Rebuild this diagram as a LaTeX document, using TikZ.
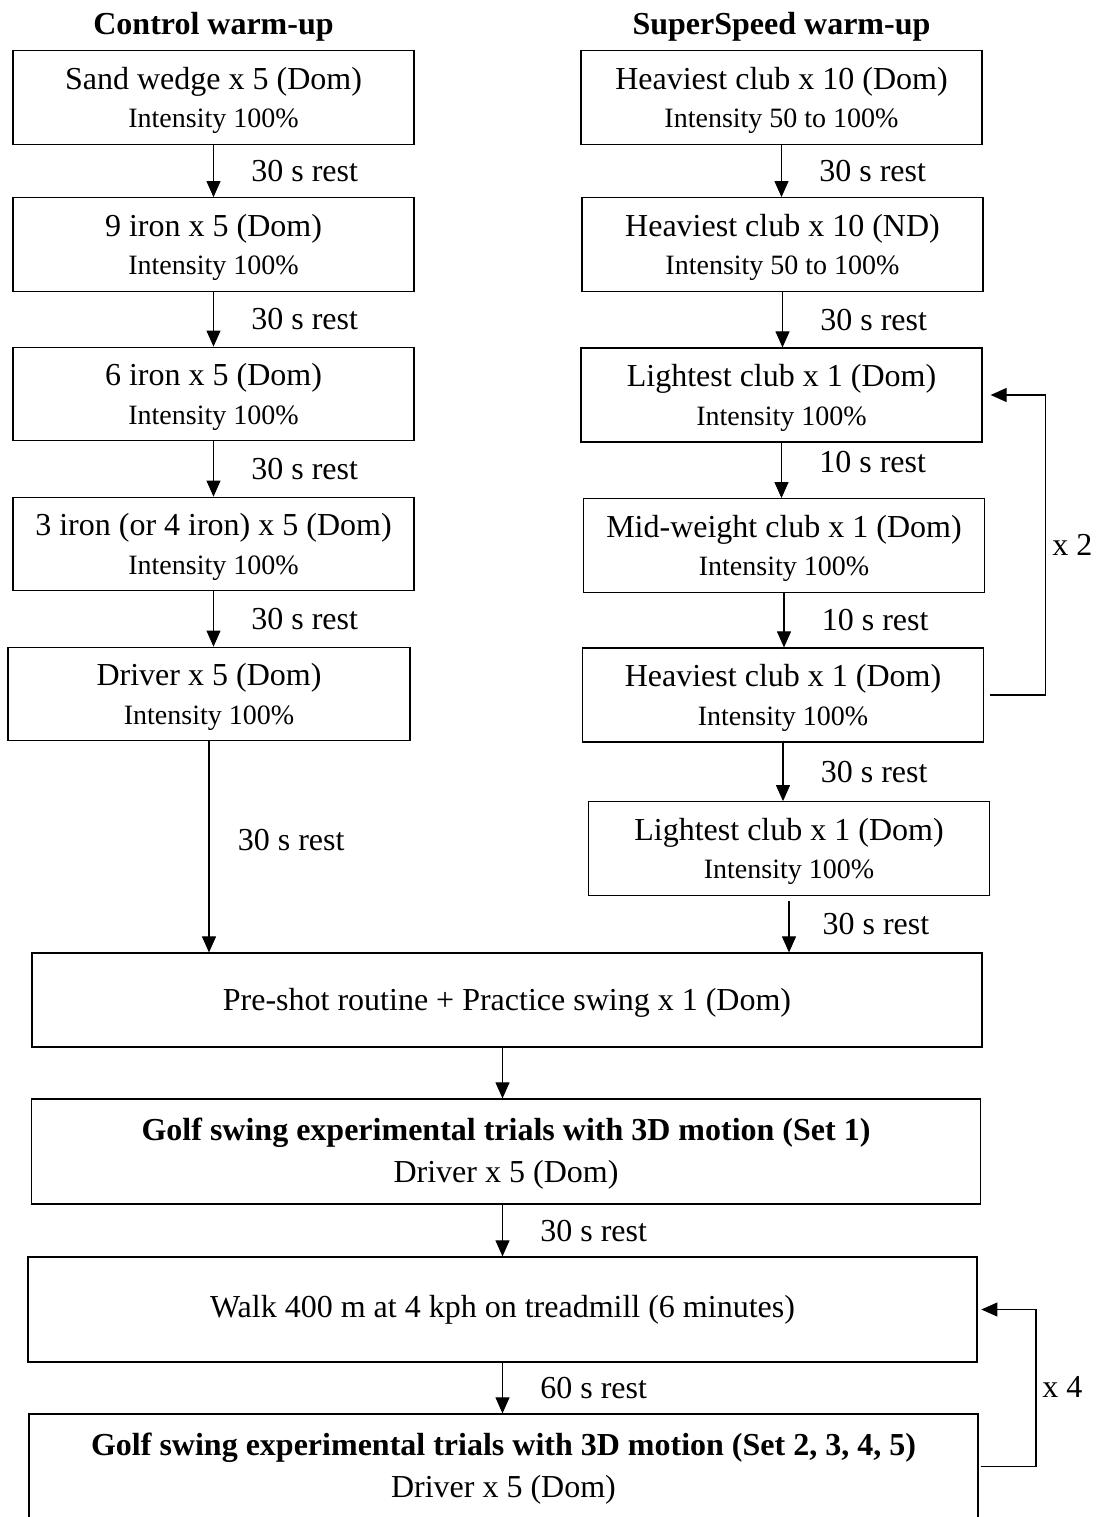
\documentclass[tikz,border=0pt]{standalone}
\usepackage{fontspec}
\setmainfont{Liberation Serif}
\usepackage{tikz}
\usetikzlibrary{positioning, arrows.meta}
\newcommand{\intens}[1]{{\fontsize{10.5}{14.4}\selectfont Intensity #1}}

\begin{document}
\begin{tikzpicture}[x=0.375pt, y=-0.375pt,
        every node/.style={font=\fontsize{12}{14.4}\selectfont, inner sep=0pt},
        stepbox/.style={draw, line width=0.45pt, align=center, minimum width=150.4pt, minimum height=35.1pt, text depth=-1.1pt},
        widebox/.style={draw, line width=0.45pt, align=center, minimum width=355.9pt, minimum height=39.4pt},
        title/.style={font=\fontsize{12}{14.4}\selectfont\bfseries},
        rest/.style={anchor=west, xshift=14pt},
        flow/.style={line width=0.4pt, -{Triangle[width=5.25pt, length=6pt]}}]
        \useasboundingbox (0, 0) rectangle (1106, 1517);
        \begin{scope}[node distance=3pt]
            \node[stepbox](SW) at (213.5, 97.5){Sand wedge x 5 (Dom)\\\intens{100\%}};
            \node[stepbox](I9) at (213.5, 244.5){9 iron x 5 (Dom)\\\intens{100\%}};
            \node[stepbox](I6) at (213.5, 394){6 iron x 5 (Dom)\\\intens{100\%}};
            \node[stepbox](I3) at (213.5, 544){3 iron (or 4 iron) x 5 (Dom)\\\intens{100\%}};
            \node[stepbox, minimum width=150.75pt](DR) at (209, 694){Driver x 5 (Dom)\\\intens{100\%}};
            \node[title, above=of SW](CT){Control warm-up};
            \node[stepbox](H10D) at (781.5, 97.5){Heaviest club x 10 (Dom)\\\intens{50 to 100\%}};
            \node[stepbox](H10N) at (782.5, 244.5){Heaviest club x 10 (ND)\\\intens{50 to 100\%}};
            \node[stepbox, minimum height=35.25pt](L1) at (781.5, 395){Lightest club x 1 (Dom)\\\intens{100\%}};
            \node[stepbox](M1) at (784, 545.5){Mid-weight club x 1 (Dom)\\\intens{100\%}};
            \node[stepbox, minimum height=35.25pt](H1) at (783, 695){Heaviest club x 1 (Dom)\\\intens{100\%}};
            \node[stepbox](L2) at (789, 848.5){Lightest club x 1 (Dom)\\\intens{100\%}};
            \node[title, above=of H10D](ST){SuperSpeed warm-up};
            \node[widebox, minimum width=356.25pt, minimum height=35.25pt, text depth=0.4pt](PS) at (507, 1000){Pre-shot routine + Practice swing x 1 (Dom)};
            \node[widebox, text depth=1.1pt](G1) at (506, 1151.5){\textbf{Golf swing experimental trials with 3D motion (Set 1)}\\[1.35pt]Driver x 5 (Dom)};
            \node[widebox](WK) at (502.5, 1309.5){Walk 400 m at 4 kph on treadmill (6 minutes)};
            \node[widebox, text depth=1.1pt](G2) at (503.5, 1466.5){\textbf{Golf swing experimental trials with 3D motion (Set 2, 3, 4, 5)}\\[1.35pt]Driver x 5 (Dom)};
            \coordinate(R2) at (1045.5, 545);
            \coordinate(R4) at (1036, 1387);
            \node[right=2.4pt of R2](R2L){x 2};
            \node[right=2.2pt of R4](R4L){x 4};
        \end{scope}
        \path[every edge/.append style={flow}]
        (SW.south)edge node[rest]{30 s rest}(SW.south |- I9.north)
        (I9.south)edge node[rest]{30 s rest}(I9.south |- I6.north)
        (I6.south)edge node[rest]{30 s rest}(I6.south |- I3.north)
        (I3.south)edge node[rest]{30 s rest}(I3.south |- DR.north)
        (DR.south)edge node[rest, xshift=-3.4pt, yshift=2.6pt]{30 s rest}(DR.south |- PS.north)
        (H10D.south)edge node[rest]{30 s rest}(H10D.south |- H10N.north)
        (H10N.south)edge node[rest]{30 s rest}(H10N.south |- L1.north)
        (L1.south)edge node[rest, yshift=3pt]{10 s rest}(L1.south |- M1.north)
        (M1.south)edge node[rest]{10 s rest}(M1.south |- H1.north)
        (H1.south)edge node[rest]{30 s rest}(H1.south |- L2.north)
        (L2.south)edge[shorten <=1.9pt] node[rest, xshift=-1.6pt]{30 s rest}(L2.south |- PS.north)
        (PS.south -| WK.center)edge(G1.north -| WK.center)
        (G1.south -| WK.center)edge node[rest]{30 s rest}(WK.north)
        (WK.south)edge node[rest]{60 s rest}(G2.north -| WK.center)
        ;
        \draw[flow] ([xshift=2.25pt]H1.east) -| (R2) |- ([xshift=3pt]L1.east);
        \draw[flow] ([xshift=0.75pt]G2.east) -| (R4) |- ([xshift=1.4pt]WK.east);
    \end{tikzpicture}
\end{document}
